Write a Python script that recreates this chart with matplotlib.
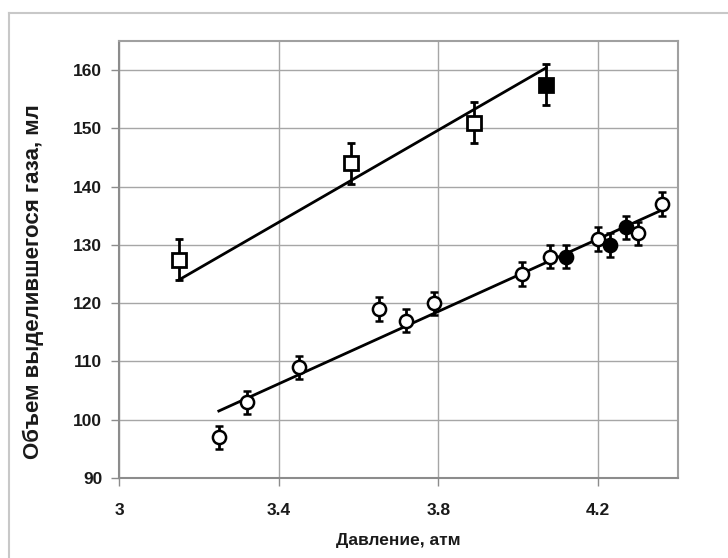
import matplotlib
matplotlib.use("Agg")
import matplotlib.pyplot as plt
from matplotlib.lines import Line2D

# Square series (open) and filled square
sq_x = [3.15, 3.58, 3.89]
sq_y = [127.5, 144, 151]
sq_err = [3.5, 3.5, 3.5]
sqf_x = [4.07]
sqf_y = [157.5]
sqf_err = [3.5]

# Circle series (open) and filled circles
ci_x = [3.25, 3.32, 3.45, 3.65, 3.72, 3.79, 4.01, 4.08, 4.20, 4.30, 4.36]
ci_y = [97, 103, 109, 119, 117, 120, 125, 128, 131, 132, 137]
ci_err = [2] * len(ci_x)
cif_x = [4.12, 4.23, 4.27]
cif_y = [128, 130, 133]
cif_err = [2, 2, 2]

# Trend lines (endpoints)
fit_sq_x = [3.15, 4.07]
fit_sq_y = [124.0, 160.4]
fit_ci_x = [3.25, 4.36]
fit_ci_y = [101.5, 136.0]

x_ticks = [3.0, 3.4, 3.8, 4.2]
x_ticklabels = ["3", "3.4", "3.8", "4.2"]
y_ticks = [90, 100, 110, 120, 130, 140, 150, 160]

fig = plt.figure(figsize=(7.28, 5.58), dpi=100)
ax = fig.add_axes([119/728, 1 - 478/558, (678-119)/728, (478-41)/558])

grid_c = "#a6a6a6"
ax.set_xlim(3.0, 4.4)
ax.set_ylim(90, 165)
ax.set_xticks(x_ticks)
ax.set_xticklabels(x_ticklabels)
ax.set_yticks(y_ticks)
ax.grid(True, color=grid_c, linewidth=1.0)
ax.set_axisbelow(True)
for s in ax.spines.values():
    s.set_color("#a0a0a0")
    s.set_linewidth(1.5)
ax.spines["left"].set_color("#8c8c8c")
ax.spines["bottom"].set_color("#8c8c8c")
ax.tick_params(axis="both", direction="out", length=6, color="#8c8c8c", width=1.0,
               labelsize=12.5, labelcolor="#1a1a1a", pad=6)
for lab in ax.get_xticklabels() + ax.get_yticklabels():
    lab.set_fontweight("bold")
    lab.set_family("Liberation Sans")
ax.tick_params(axis="x", pad=12)

ax.plot(fit_sq_x, fit_sq_y, color="black", linewidth=2.0, zorder=3)
ax.plot(fit_ci_x, fit_ci_y, color="black", linewidth=2.0, zorder=3)

ekw = dict(ecolor="black", elinewidth=2.0, capsize=3, capthick=2.0, linestyle="none", zorder=4)
ax.errorbar(sq_x, sq_y, yerr=sq_err, marker="s", markersize=10, markerfacecolor="white",
            markeredgecolor="black", markeredgewidth=2.0, **ekw)
ax.errorbar(sqf_x, sqf_y, yerr=sqf_err, marker="s", markersize=10, markerfacecolor="black",
            markeredgecolor="black", markeredgewidth=2.0, **ekw)
ax.errorbar(ci_x, ci_y, yerr=ci_err, marker="o", markersize=9.5, markerfacecolor="white",
            markeredgecolor="black", markeredgewidth=1.8, **ekw)
ax.errorbar(cif_x, cif_y, yerr=cif_err, marker="o", markersize=9.5, markerfacecolor="black",
            markeredgecolor="black", markeredgewidth=1.8, **ekw)

ax.set_xlabel("Давление, атм", fontsize=12.5, fontweight="bold", family="Liberation Sans",
              color="#1a1a1a", labelpad=11)
ax.set_ylabel("Объем выделившегося газа, мл", fontsize=16, fontweight="bold",
              family="Liberation Sans", color="#1a1a1a")
ax.yaxis.set_label_coords(-0.135, 0.45)

# outer chart border (left and top visible)
fig.add_artist(Line2D([9/728, 9/728], [0, 1 - 13/558], transform=fig.transFigure,
                      color="#c8c8c8", linewidth=1.5))
fig.add_artist(Line2D([9/728, 1], [1 - 13/558, 1 - 13/558], transform=fig.transFigure,
                      color="#c8c8c8", linewidth=1.5))

fig.savefig("out.png", dpi=100)
